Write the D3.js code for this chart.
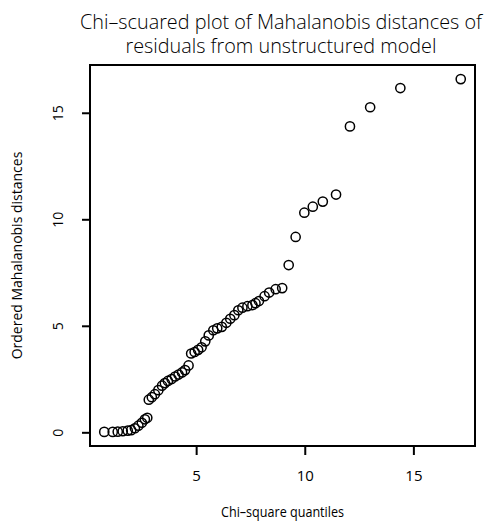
<!DOCTYPE html>
<html>
<head>
<meta charset="utf-8">
<script src="https://cdn.jsdelivr.net/npm/d3@7"></script>
<style>
  body { margin: 0; background: #fff; }
  svg { display: block; }
  text { font-family: "Open Sans", "DejaVu Sans", sans-serif; font-weight: 400; fill: #000; }
  .title { font-weight: 300; }
</style>
</head>
<body>
<svg width="486" height="524"></svg>
<script>
// chi-square quantiles (x) and ordered Mahalanobis distances (y)
var chiQuantiles = [0.77, 1.16, 1.39, 1.62, 1.85, 2.01, 2.18, 2.34, 2.50, 2.64,
  2.75, 2.82, 2.96, 3.10, 3.26, 3.43, 3.56, 3.70, 3.87, 4.03,
  4.19, 4.35, 4.49, 4.65, 4.77, 4.93, 5.09, 5.25, 5.42, 5.58,
  5.79, 5.97, 6.18, 6.39, 6.57, 6.76, 6.94, 7.13, 7.36, 7.59,
  7.73, 7.89, 8.15, 8.36, 8.66, 8.96, 9.26, 9.58, 9.98, 10.37,
  10.83, 11.44, 12.08, 13.01, 14.40, 17.18];
var mahalDistances = [0.02, 0.02, 0.03, 0.05, 0.08, 0.10, 0.19, 0.31, 0.45, 0.61,
  0.68, 1.53, 1.65, 1.79, 1.98, 2.19, 2.31, 2.41, 2.50, 2.62,
  2.71, 2.81, 2.92, 3.14, 3.70, 3.77, 3.87, 3.99, 4.27, 4.55,
  4.79, 4.88, 4.95, 5.14, 5.33, 5.50, 5.73, 5.85, 5.92, 5.97,
  6.06, 6.16, 6.39, 6.56, 6.72, 6.77, 7.85, 9.17, 10.31, 10.59,
  10.83, 11.16, 14.36, 15.26, 16.16, 16.58];
var xTicks = [5, 10, 15];
var yTicks = [0, 5, 10, 15];

var titleLines = ["Chi\u2013scuared plot of Mahalanobis distances of", "residuals from unstructured model"];
var xLabel = "Chi\u2013square quantiles";
var yLabel = "Ordered Mahalanobis distances";

var box = { left: 90, right: 475, top: 65, bottom: 446 };

var points = chiQuantiles.map(function(d, i) {
  return { q: d, dist: mahalDistances[i] };
});

// R style 4% padding on both axes
function padded(ext) {
  var p = (ext[1] - ext[0]) * 0.04;
  return [ext[0] - p, ext[1] + p];
}

var x = d3.scaleLinear()
  .domain(padded(d3.extent(chiQuantiles)))
  .range([box.left, box.right]);

var y = d3.scaleLinear()
  .domain(padded(d3.extent(mahalDistances)))
  .range([box.bottom, box.top]);

var svg = d3.select("svg");

// title
svg.selectAll(".title")
  .data(titleLines)
  .enter().append("text")
  .attr("class", "title")
  .attr("transform", function(d, i) { return "translate(281," + (29 + i * 24) + ") scale(0.99,1)"; })
  .attr("text-anchor", "middle")
  .style("font-size", "20px")
  .text(function(d) { return d; });

// x axis
var xAxis = svg.append("g")
  .attr("transform", "translate(0," + box.bottom + ")")
  .call(d3.axisBottom(x).tickValues(xTicks).tickSize(9).tickPadding(15).tickFormat(d3.format("d")));
xAxis.select(".domain").remove();
xAxis.selectAll("line").attr("stroke", "#000").attr("stroke-width", 2);
xAxis.selectAll("text").style("font-size", "15px").style("font-family", null);

// y axis, labels turned parallel to the axis
var yAxis = svg.append("g")
  .attr("transform", "translate(" + box.left + ",0)")
  .call(d3.axisLeft(y).tickValues(yTicks).tickSize(8).tickFormat(d3.format("d")));
yAxis.select(".domain").remove();
yAxis.selectAll("line").attr("stroke", "#000").attr("stroke-width", 2);
yAxis.selectAll("text")
  .attr("transform", "rotate(-90)")
  .attr("x", 0)
  .attr("y", -27)
  .attr("dy", 0)
  .attr("text-anchor", "middle")
  .style("font-size", "14px")
  .style("font-family", null);

// plot frame
svg.append("rect")
  .attr("x", box.left)
  .attr("y", box.top)
  .attr("width", box.right - box.left)
  .attr("height", box.bottom - box.top)
  .attr("fill", "none")
  .attr("stroke", "#000")
  .attr("stroke-width", 2);

// points
svg.selectAll(".pt")
  .data(points)
  .enter().append("circle")
  .attr("class", "pt")
  .attr("cx", function(d) { return x(d.q); })
  .attr("cy", function(d) { return y(d.dist); })
  .attr("r", 4.6)
  .attr("fill", "none")
  .attr("stroke", "#000")
  .attr("stroke-width", 1.5);

// axis labels
svg.append("text")
  .attr("transform", "translate(" + ((box.left + box.right) / 2) + ",517) scale(0.9,1)")
  .attr("text-anchor", "middle")
  .style("font-size", "14px")
  .text(xLabel);

svg.append("text")
  .attr("transform", "translate(22," + ((box.top + box.bottom) / 2) + ") rotate(-90)")
  .attr("text-anchor", "middle")
  .style("font-size", "14px")
  .text(yLabel);
</script>
</body>
</html>
